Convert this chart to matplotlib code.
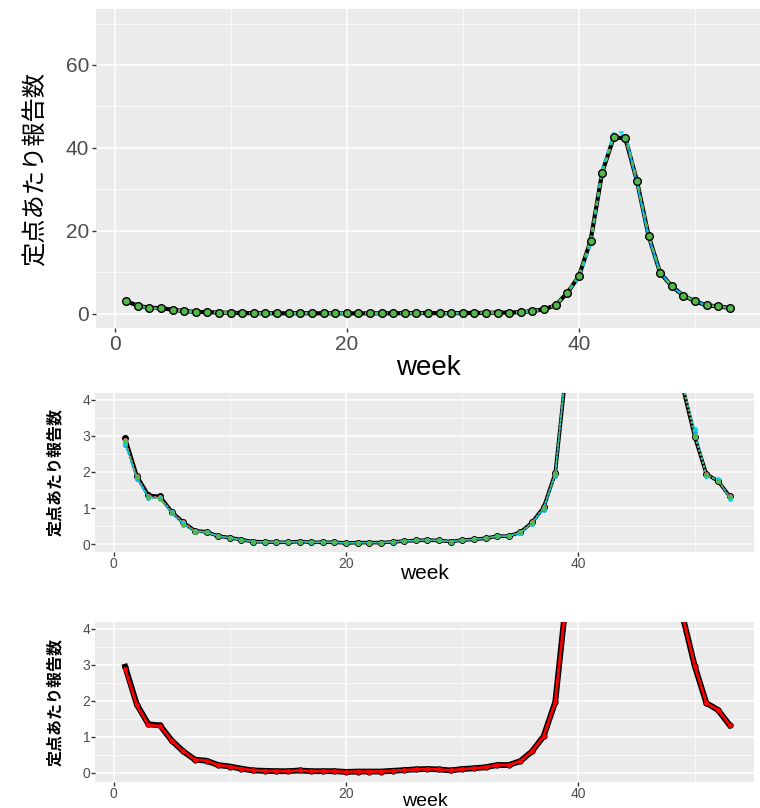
import matplotlib
matplotlib.use("Agg")
import matplotlib.pyplot as plt
from matplotlib.ticker import MultipleLocator

plt.rcParams['font.family'] = ['Liberation Sans', 'Noto Sans CJK JP', 'DejaVu Sans']

# weekly reports per sentinel site, week 1..53
weeks = list(range(1, 54))

obs = [2.95, 1.90, 1.35, 1.32, 0.90, 0.60, 0.37, 0.34, 0.22, 0.18,
       0.12, 0.07, 0.06, 0.05, 0.05, 0.07, 0.05, 0.05, 0.05, 0.03,
       0.04, 0.04, 0.04, 0.06, 0.08, 0.10, 0.11, 0.10, 0.07, 0.11,
       0.13, 0.16, 0.22, 0.22, 0.33, 0.60, 1.02, 1.97, 5.0, 9.0,
       17.5, 34.0, 42.5, 42.3, 32.0, 18.8, 9.8, 6.6, 4.3, 2.97,
       1.94, 1.75, 1.33]

est_blue = [2.75, 1.80, 1.27, 1.27, 0.85, 0.55, 0.35, 0.33, 0.21, 0.17,
            0.11, 0.07, 0.06, 0.05, 0.05, 0.07, 0.05, 0.05, 0.05, 0.03,
            0.04, 0.04, 0.04, 0.06, 0.08, 0.10, 0.11, 0.10, 0.07, 0.11,
            0.13, 0.16, 0.21, 0.22, 0.30, 0.55, 0.95, 1.90, 5.2, 8.5,
            16.5, 35.0, 43.0, 43.0, 31.5, 18.5, 9.9, 6.5, 4.4, 3.10,
            1.90, 1.78, 1.30]

est_cyan = [2.80, 1.85, 1.30, 1.28, 0.88, 0.58, 0.36, 0.34, 0.22, 0.18,
            0.12, 0.07, 0.06, 0.05, 0.05, 0.07, 0.05, 0.05, 0.05, 0.03,
            0.04, 0.04, 0.04, 0.06, 0.08, 0.10, 0.11, 0.10, 0.07, 0.11,
            0.13, 0.16, 0.22, 0.22, 0.32, 0.58, 1.00, 1.95, 5.1, 8.8,
            17.0, 34.5, 43.6, 43.8, 31.8, 18.6, 9.7, 6.6, 4.3, 3.20,
            1.88, 1.80, 1.25]

est_green = [2.85, 1.85, 1.30, 1.25, 0.85, 0.52, 0.33, 0.33, 0.21, 0.17,
             0.11, 0.07, 0.06, 0.05, 0.05, 0.07, 0.05, 0.05, 0.05, 0.03,
             0.04, 0.04, 0.04, 0.06, 0.08, 0.10, 0.11, 0.10, 0.07, 0.11,
             0.13, 0.16, 0.22, 0.22, 0.33, 0.58, 1.00, 1.95, 5.3, 9.2,
             17.8, 33.8, 42.6, 42.4, 32.2, 18.9, 9.9, 6.7, 4.4, 3.00,
             1.92, 1.76, 1.30]

est_red = [2.88, 1.88, 1.33, 1.30, 0.90, 0.60, 0.37, 0.34, 0.22, 0.18,
           0.12, 0.07, 0.06, 0.05, 0.05, 0.07, 0.05, 0.05, 0.05, 0.03,
           0.04, 0.04, 0.04, 0.06, 0.08, 0.10, 0.11, 0.10, 0.07, 0.11,
           0.13, 0.16, 0.22, 0.22, 0.33, 0.60, 1.02, 1.97, 5.0, 9.0,
           17.5, 34.0, 42.5, 42.3, 32.0, 18.8, 9.8, 6.6, 4.3, 2.97,
           1.94, 1.75, 1.33]

variants = [(est_red, "#F8766D"), (est_blue, "#00A9FF"),
            (est_cyan, "#00D9F0"), (est_green, "#53B74C")]

ylabel = "定点あたり報告数"
cjk = ['Noto Sans CJK JP', 'DejaVu Sans']
W, H = 760, 808


def style(ax, major_y, minor_y, tick_size, pad):
    ax.set_facecolor("#EBEBEB")
    for s in ax.spines.values():
        s.set_visible(False)
    ax.xaxis.set_major_locator(MultipleLocator(20))
    ax.xaxis.set_minor_locator(MultipleLocator(10))
    ax.yaxis.set_major_locator(MultipleLocator(major_y))
    ax.yaxis.set_minor_locator(MultipleLocator(minor_y))
    ax.grid(which="major", color="white", linewidth=1.1)
    ax.grid(which="minor", color="white", linewidth=0.5)
    ax.set_axisbelow(True)
    ax.tick_params(which="major", length=3, width=1, color="#333333",
                   labelcolor="#4D4D4D", labelsize=tick_size, pad=pad)
    ax.tick_params(which="minor", length=0)


def axes_px(fig, left, right, top, bottom):
    return fig.add_axes([left / W, 1 - bottom / H, (right - left) / W, (bottom - top) / H])


fig = plt.figure(figsize=(7.6, 8.08), dpi=100)

# Step 1 : full season
ax1 = axes_px(fig, 96, 760, 9, 328)
style(ax1, 20, 10, 15, 2)
ax1.plot(weeks, obs, color="black", linewidth=3.0, zorder=2)
for vals, col in variants:
    ax1.plot(weeks, vals, color=col, linewidth=1.6, linestyle=(0, (2, 2)), zorder=3)
ax1.plot(weeks, obs, linestyle="none", marker="o", markersize=5.5,
         markerfacecolor="#53B74C", markeredgecolor="black", markeredgewidth=1.0, zorder=4)
ax1.set_xlim(-1.6, 55.6)
ax1.set_ylim(-3.5, 73.5)
ax1.set_xlabel("week", fontsize=20, labelpad=1)
ax1.set_ylabel(ylabel, fontsize=17.5, family=cjk, labelpad=12)

# Step 2 : zoom into low values, all estimates
ax2 = axes_px(fig, 95, 754, 393, 552)
style(ax2, 1, 0.5, 10, 0.5)
ax2.plot(weeks, obs, color="black", linewidth=2.6, marker="o", markersize=4, zorder=2)
for vals, col in variants:
    ax2.plot(weeks, vals, color=col, linewidth=1.0, linestyle=(0, (1.5, 1.5)),
             marker="o", markersize=3.5, markeredgewidth=0, zorder=3)
ax2.set_xlim(-1.6, 55.1)
ax2.set_ylim(-0.22, 4.19)
ax2.set_xlabel("week", fontsize=15, labelpad=-5)
ax2.set_ylabel(ylabel, fontsize=11.5, family=cjk, fontweight="bold", labelpad=14)

# Step 3 : zoom, observed only
ax3 = axes_px(fig, 95, 754, 622, 782)
style(ax3, 1, 0.5, 10, 0.5)
ax3.plot(weeks, obs, color="black", linewidth=4.2, marker="o", markersize=3.5, zorder=2)
ax3.plot(weeks, est_red, color="#FF0000", linewidth=2.0, marker="o", markersize=2.5, zorder=3)
ax3.set_xlim(-1.6, 55.1)
ax3.set_ylim(-0.25, 4.19)
ax3.set_xlabel("week", fontsize=14, labelpad=-6)
ax3.set_ylabel(ylabel, fontsize=11.5, family=cjk, fontweight="bold", labelpad=14)

fig.savefig("out.png", dpi=100)
